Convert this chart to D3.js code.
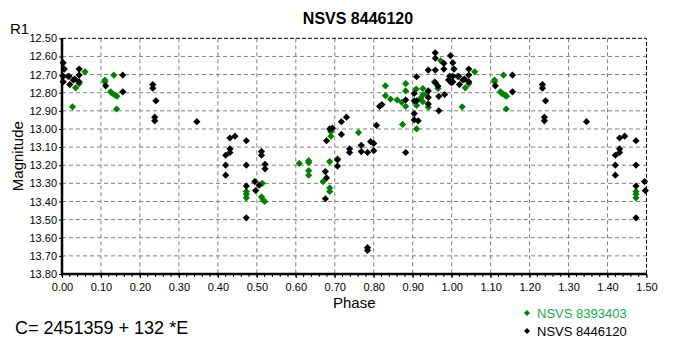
<!DOCTYPE html>
<html>
<head>
<meta charset="utf-8">
<script src="https://cdn.jsdelivr.net/npm/d3@7"></script>
<style>
  body { margin: 0; background: #fff; }
  text { font-family: "Liberation Sans", Arial, sans-serif; }
</style>
</head>
<body>
<svg id="chart" width="686" height="355"></svg>
<script>
// phase, magnitude (phase 0..1; phases below 0.5 are repeated at +1)
var blackStar = [
  [0.003,12.635],[0.006,12.67],[0.003,12.71],[0.003,12.74],[0.018,12.71],[0.02,12.755],
  [0.029,12.73],[0.033,12.725],[0.044,12.67],[0.044,12.703],[0.044,12.74],
  [0.112,12.762],[0.156,12.703],[0.156,12.795],
  [0.233,12.755],[0.233,12.775],[0.241,12.845],[0.238,12.935],[0.238,12.955],
  [0.346,12.96],
  [0.431,13.05],[0.444,13.04],[0.431,13.11],[0.431,13.13],[0.42,13.145],[0.42,13.2],
  [0.42,13.255],[0.473,13.065],[0.473,13.2],[0.512,13.125],[0.512,13.145],[0.521,13.195],
  [0.521,13.22],[0.495,13.29],[0.506,13.31],[0.473,13.315],[0.497,13.34],[0.473,13.49],
  [0.676,13.235],[0.679,13.27],[0.676,13.385],[0.707,13.17],[0.707,13.205],[0.687,13.0],
  [0.694,12.995],[0.679,13.065],[0.717,12.96],[0.73,12.935],[0.717,13.03],[0.738,13.11],
  [0.738,13.13],[0.768,13.09],[0.768,13.125],[0.784,13.13],[0.792,13.07],[0.8,13.08],
  [0.8,13.12],[0.807,12.98],[0.815,12.875],[0.821,12.865],[0.882,13.13],[0.784,13.655],
  [0.784,13.67],
  [0.882,12.84],[0.904,12.804],[0.904,12.845],[0.91,12.845],[0.91,12.712],[0.904,12.915],
  [0.904,12.95],[0.914,12.955],[0.94,12.79],[0.94,12.826],[0.94,12.863],[0.967,12.82],
  [0.982,12.81],[0.967,12.9],[0.94,12.675],[0.958,12.675],[0.958,12.58],[0.958,12.61],
  [0.98,12.638],[0.98,12.67],[0.997,12.596],[0.965,12.764],[0.958,12.745],
  [0.995,12.71],[0.999,12.745],[0.992,12.73]
];

var greenStar = [
  [0.015,12.71],[0.035,12.773],[0.044,12.75],[0.059,12.685],[0.027,12.878],[0.11,12.73],
  [0.11,12.74],[0.133,12.703],[0.125,12.795],[0.129,12.804],[0.136,12.813],[0.141,12.819],
  [0.14,12.89],
  [0.514,13.3],[0.473,13.345],[0.473,13.36],[0.473,13.38],[0.512,13.375],[0.516,13.39],
  [0.52,13.4],
  [0.609,13.19],[0.633,13.175],[0.633,13.185],[0.633,13.23],[0.633,13.255],[0.687,13.18],
  [0.67,13.29],[0.687,13.325],[0.687,13.345],[0.707,13.165],[0.69,13.015],[0.69,13.04],
  [0.761,13.02],[0.874,12.975],
  [0.83,12.762],[0.83,12.817],[0.843,12.835],[0.86,12.84],[0.872,12.853],[0.882,12.875],
  [0.882,12.75],[0.882,12.79],[0.909,12.78],[0.91,12.87],[0.926,12.777],[0.926,12.813],
  [0.926,12.85],[0.935,12.804],[0.94,12.88],[0.92,12.83],[0.956,12.74],[0.965,12.777],
  [0.972,12.624],[0.91,13.0]
];

var phaseTicks = d3.range(0, 16).map(function(i) { return i / 10; });
var magTicks = d3.range(0, 14).map(function(i) { return 12.5 + i / 10; });

var seriesNames = ['NSVS 8393403', 'NSVS 8446120'];
var seriesColors = ['#008000', '#000000'];
var legendTextColors = ['#22a84a', '#000000'];

var plotL = 62, plotR = 646.5, plotT = 38.3, plotB = 274;

var x = d3.scaleLinear().domain([0, 1.5]).range([plotL, plotR]);
var y = d3.scaleLinear().domain([12.5, 13.8]).range([plotT, plotB]);

var svg = d3.select('#chart');

// fold the phased data so 0..0.5 appears again at 1..1.5
function unfold(list) {
  var out = list.slice();
  list.forEach(function(d) { if (d[0] < 0.5) out.push([d[0] + 1, d[1]]); });
  return out;
}

// grid
svg.append('g').selectAll('line').data(phaseTicks.slice(1, -1)).enter().append('line')
  .attr('x1', function(d) { return x(d); }).attr('x2', function(d) { return x(d); })
  .attr('y1', plotT).attr('y2', plotB)
  .attr('stroke', '#808080').attr('stroke-dasharray', '4,3');

svg.append('g').selectAll('line').data(magTicks.slice(1, -1)).enter().append('line')
  .attr('x1', plotL).attr('x2', plotR)
  .attr('y1', function(d) { return y(d); }).attr('y2', function(d) { return y(d); })
  .attr('stroke', '#808080').attr('stroke-dasharray', '4,3');

// dashed top/right frame
svg.append('path')
  .attr('d', 'M' + plotL + ',' + plotT + 'H' + plotR + 'V' + plotB)
  .attr('fill', 'none').attr('stroke', '#000').attr('stroke-dasharray', '4,2');

// axes
var xAxis = d3.axisBottom(x).tickValues(phaseTicks).tickFormat(d3.format('.2f')).tickSize(4);
var gx = svg.append('g').attr('transform', 'translate(0,' + plotB + ')').call(xAxis);
gx.select('.domain').remove();
gx.selectAll('text').attr('y', 9).attr('font-size', 11)
  .attr('font-family', '"Liberation Sans", Arial, sans-serif');

svg.append('g').attr('transform', 'translate(0,' + plotB + ')')
  .selectAll('line').data(d3.range(0, 76).map(function(i) { return i / 50; })).enter().append('line')
  .attr('x1', function(d) { return x(d); }).attr('x2', function(d) { return x(d); })
  .attr('y1', 0).attr('y2', 3).attr('stroke', '#000');

var yAxis = d3.axisLeft(y).tickValues(magTicks).tickFormat(d3.format('.2f')).tickSize(3);
var gy = svg.append('g').attr('transform', 'translate(' + plotL + ',0)').call(yAxis);
gy.select('.domain').remove();
gy.selectAll('text').attr('x', -5).attr('font-size', 11)
  .attr('font-family', '"Liberation Sans", Arial, sans-serif');

svg.append('path')
  .attr('d', 'M' + plotL + ',' + plotT + 'V' + plotB + 'H' + plotR)
  .attr('fill', 'none').attr('stroke', '#000').attr('stroke-width', 2.5);

// points
var diamond = 'M0,-3.6L3.6,0L0,3.6L-3.6,0Z';
[greenStar, blackStar].forEach(function(list, i) {
  svg.append('g').selectAll('path').data(unfold(list)).enter().append('path')
    .attr('d', diamond)
    .attr('transform', function(d) { return 'translate(' + x(d[0]) + ',' + y(d[1]) + ')'; })
    .attr('fill', seriesColors[i]);
});

// titles
svg.append('text').attr('x', 358).attr('y', 24).attr('text-anchor', 'middle')
  .attr('font-size', 16).attr('font-weight', 'bold').text('NSVS 8446120');
svg.append('text').attr('x', 10).attr('y', 34).attr('font-size', 15).text('R1');
svg.append('text').attr('transform', 'translate(23,' + ((plotT + plotB) / 2) + ') rotate(-90)')
  .attr('text-anchor', 'middle').attr('font-size', 15).text('Magnitude');
svg.append('text').attr('x', (plotL + plotR) / 2).attr('y', 308).attr('text-anchor', 'middle')
  .attr('font-size', 15).text('Phase');
svg.append('text').attr('x', 15).attr('y', 334).attr('font-size', 18)
  .text('C= 2451359 + 132 *E');

// legend
var legend = svg.append('g').selectAll('g').data(seriesNames).enter().append('g')
  .attr('transform', function(d, i) { return 'translate(527,' + (313 + i * 18) + ')'; });
legend.append('path').attr('d', 'M0,-3L3,0L0,3L-3,0Z')
  .attr('fill', function(d, i) { return seriesColors[i]; });
legend.append('text').attr('x', 10).attr('dy', '0.35em').attr('font-size', 13)
  .attr('fill', function(d, i) { return legendTextColors[i]; })
  .text(function(d) { return d; });
</script>
</body>
</html>
